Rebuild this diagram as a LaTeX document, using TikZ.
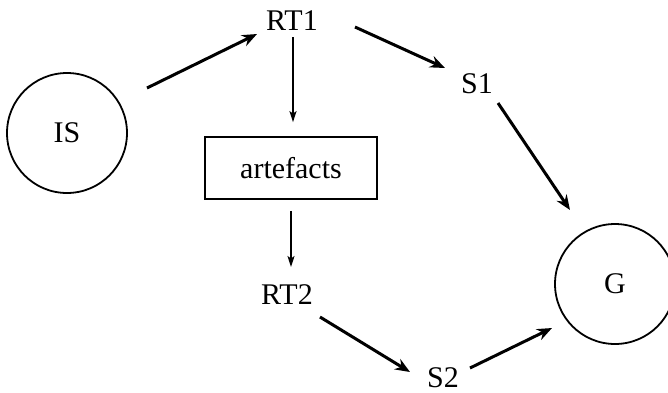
\documentclass[tikz,border=0pt]{standalone}
\usepackage{fontspec}
\setmainfont{Liberation Serif}
\usetikzlibrary{arrows.meta,calc}
\begin{document}
\begin{tikzpicture}[x=1pt,y=-1pt,
  font=\fontsize{30}{34}\selectfont,
  state/.style={circle,draw,line width=1.8pt,minimum size=120pt,inner sep=0pt},
  label/.style={inner sep=0pt},
  box/.style={rectangle,draw,line width=1.8pt,minimum width=172pt,minimum height=62pt,inner sep=0pt},
  bold/.style={line width=3pt,-{Stealth[length=15pt,width=12pt,inset=5pt]}},
  fine/.style={line width=1.5pt,-{Stealth[length=11pt,width=7pt,inset=2.5pt]}}]
\useasboundingbox (0,0) rectangle (668,392);
\node[state] (IS) at (67,133) {IS};
\node[state] (G) at (615,284) {G};
\node[label] (RT1) at (292,21) {RT1};
\node[label] (S1) at (477,84) {S1};
\node[box] (art) at (291,168) {artefacts};
\node[label] (RT2) at (287,295) {RT2};
\node[label] (S2) at (443,378) {S2};
\draw[bold] ($(IS)+(80,-45)$) -- ($(RT1)+(-35,13)$);
\draw[bold] ($(RT1)+(63,6)$) -- ($(S1)+(-32,-16)$);
\draw[fine] ($(RT1)+(1,16)$) -- ($(art.north)+(2,-14)$);
\draw[fine] ($(art.south)+(0,11)$) -- ($(RT2)+(4,-28)$);
\draw[bold] ($(S1)+(21,19)$) -- ($(G)+(-45,-74)$);
\draw[bold] ($(RT2)+(33,22)$) -- ($(S2)+(-33,-6)$);
\draw[bold] ($(S2)+(27,-10)$) -- ($(G)+(-63,44)$);
\end{tikzpicture}
\end{document}
